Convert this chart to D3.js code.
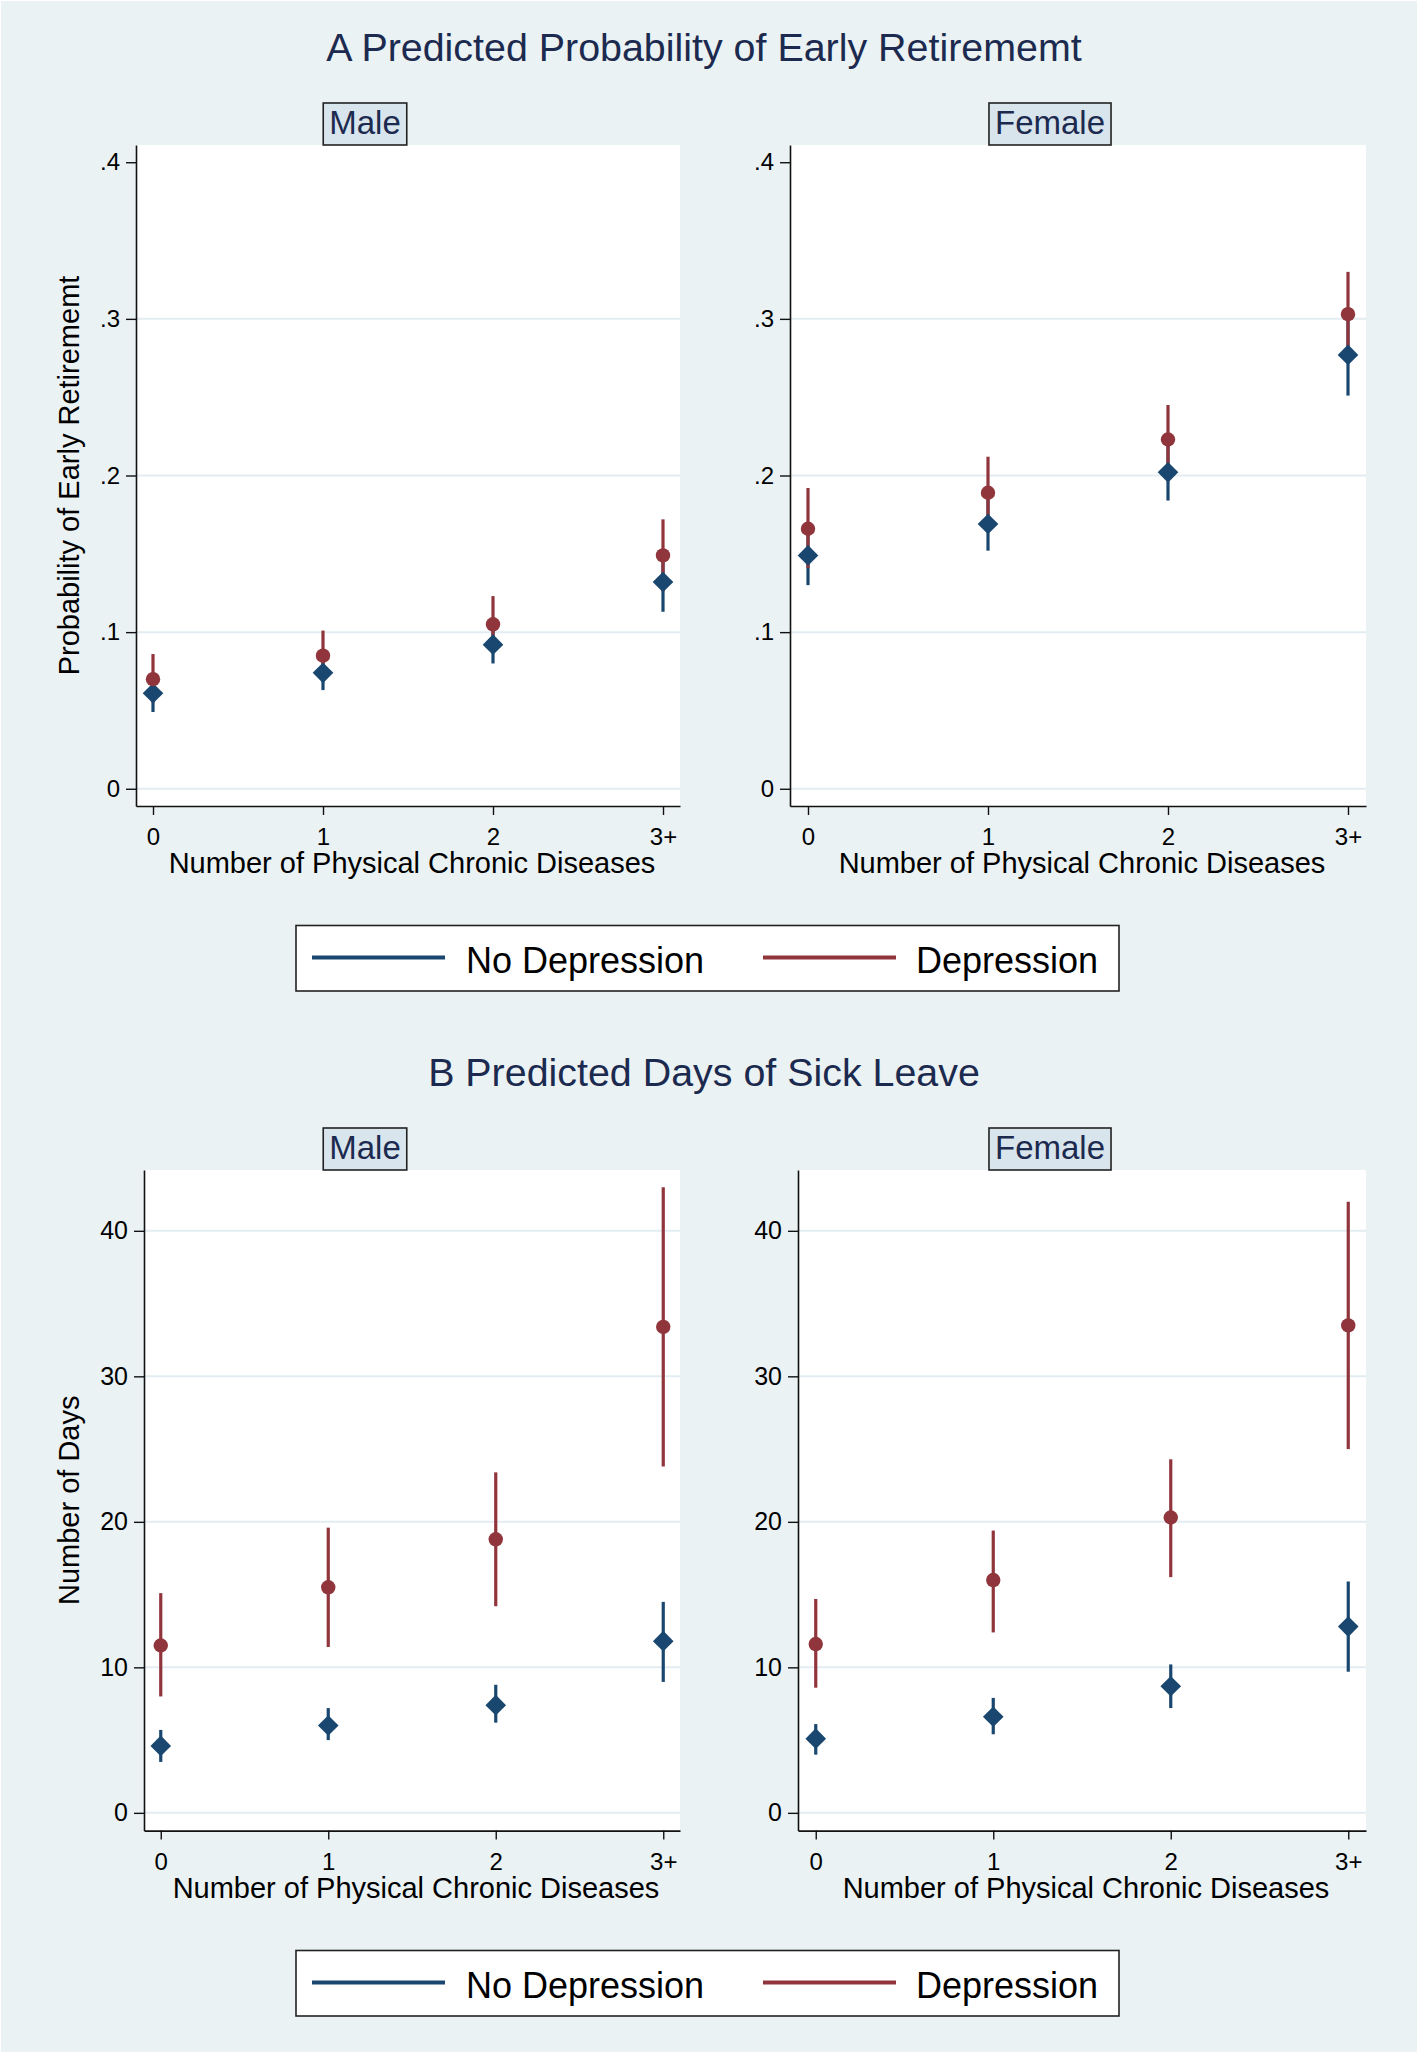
<!DOCTYPE html>
<html><head><meta charset="utf-8">
<script src="https://cdn.jsdelivr.net/npm/d3@7"></script>
<style>
body{margin:0;background:#eaf2f3}
svg{display:block}
text{font-family:"Liberation Sans",Arial,Helvetica,sans-serif}
</style>
</head><body>
<svg id="c" width="1418" height="2053"></svg>
<script>
// ---------------- data ----------------
const categories = ["0", "1", "2", "3+"];
const seriesNames = ["No Depression", "Depression"];
const titleA = "A Predicted Probability of Early Retirememt";
const titleB = "B Predicted Days of Sick Leave";
const stripLabels = ["Male", "Female"];
const xTitle = "Number of Physical Chronic Diseases";
const yTitleA = "Probability of Early Retirememt";
const yTitleB = "Number of Days";
const probTicks = [0, 0.1, 0.2, 0.3, 0.4];
const probTickLabels = ["0", ".1", ".2", ".3", ".4"];
const dayTicks = [0, 10, 20, 30, 40];
const dayTickLabels = ["0", "10", "20", "30", "40"];

// Panel A, Male: probability of early retirement
const probMaleNoDep   = [0.061, 0.074, 0.092, 0.132];
const probMaleNoDepLo = [0.049, 0.063, 0.080, 0.113];
const probMaleNoDepHi = [0.073, 0.085, 0.105, 0.151];
const probMaleDep     = [0.070, 0.085, 0.105, 0.149];
const probMaleDepLo   = [0.055, 0.069, 0.087, 0.126];
const probMaleDepHi   = [0.086, 0.101, 0.123, 0.172];
// Panel A, Female
const probFemNoDep    = [0.149, 0.169, 0.202, 0.277];
const probFemNoDepLo  = [0.130, 0.152, 0.184, 0.251];
const probFemNoDepHi  = [0.168, 0.186, 0.220, 0.303];
const probFemDep      = [0.166, 0.189, 0.223, 0.303];
const probFemDepLo    = [0.141, 0.166, 0.201, 0.276];
const probFemDepHi    = [0.192, 0.212, 0.245, 0.330];
// Panel B, Male: days of sick leave
const daysMaleNoDep   = [4.6, 6.0, 7.4, 11.8];
const daysMaleNoDepLo = [3.5, 5.0, 6.2, 9.0];
const daysMaleNoDepHi = [5.7, 7.2, 8.8, 14.5];
const daysMaleDep     = [11.5, 15.5, 18.8, 33.4];
const daysMaleDepLo   = [8.0, 11.4, 14.2, 23.8];
const daysMaleDepHi   = [15.1, 19.6, 23.4, 43.0];
// Panel B, Female
const daysFemNoDep    = [5.1, 6.6, 8.7, 12.8];
const daysFemNoDepLo  = [4.0, 5.4, 7.2, 9.7];
const daysFemNoDepHi  = [6.1, 7.9, 10.2, 15.9];
const daysFemDep      = [11.6, 16.0, 20.3, 33.5];
const daysFemDepLo    = [8.6, 12.4, 16.2, 25.0];
const daysFemDepHi    = [14.7, 19.4, 24.3, 42.0];

// ---------------- style / layout ----------------
const BG = "#eaf2f3", STRIP = "#d8e5ec", GRID = "#e3edf1";
const NAVY = "#1a476f", MAROON = "#90353b", TITLEC = "#1c2a4f";
const FONT_TICK = 24, FONT_AXT = 29, FONT_TITLE = 39.4, FONT_STRIP = 33, FONT_LEG = 36;

const svg = d3.select("#c");
svg.append("rect").attr("x",0).attr("y",0).attr("width",1418).attr("height",2053)
  .attr("fill",BG).attr("stroke","#ffffff").attr("stroke-width",2);

function mk(est, lo, hi){ return categories.map((c,i)=>({i, est:est[i], lo:lo[i], hi:hi[i]})); }

const blocks = [
  {off:0, title:titleA, yTitle:yTitleA, ticks:probTicks, tickLabels:probTickLabels, yTickFont:24,
   yDom:[-0.011,0.411], plotTop:145, plotBot:806, grid:[0,0.1,0.2,0.3],
   panels:[
     {strip:stripLabels[0], xr:[136,680], cx:365,
      nd:mk(probMaleNoDep,probMaleNoDepLo,probMaleNoDepHi), d:mk(probMaleDep,probMaleDepLo,probMaleDepHi), showYT:true},
     {strip:stripLabels[1], xr:[790,1366], cx:1050,
      nd:mk(probFemNoDep,probFemNoDepLo,probFemNoDepHi), d:mk(probFemDep,probFemDepLo,probFemDepHi), showYT:false}
   ]},
  {off:1025, title:titleB, yTitle:yTitleB, ticks:dayTicks, tickLabels:dayTickLabels, yTickFont:25,
   yDom:[-1.22,44.18], plotTop:145, plotBot:805.6, grid:[0,10,20,30,40],
   panels:[
     {strip:stripLabels[0], xr:[144,680], cx:365,
      nd:mk(daysMaleNoDep,daysMaleNoDepLo,daysMaleNoDepHi), d:mk(daysMaleDep,daysMaleDepLo,daysMaleDepHi), showYT:true},
     {strip:stripLabels[1], xr:[798,1366], cx:1050,
      nd:mk(daysFemNoDep,daysFemNoDepLo,daysFemNoDepHi), d:mk(daysFemDep,daysFemDepLo,daysFemDepHi), showYT:false}
   ]}
];

const diamond = (r)=>`M0,${-r}L${r},0L0,${r}L${-r},0Z`;

blocks.forEach(b=>{
  const g = svg.append("g").attr("transform",`translate(0,${b.off})`);
  // title
  g.append("text").attr("x",704).attr("y",61).attr("text-anchor","middle")
    .attr("font-size",FONT_TITLE).attr("fill",TITLEC).text(b.title);

  b.panels.forEach(p=>{
    const x = d3.scaleLinear().domain([-0.1,3.1]).range(p.xr);
    const y = d3.scaleLinear().domain(b.yDom).range([b.plotBot,b.plotTop]);
    const pg = g.append("g");
    // plot region
    pg.append("rect").attr("x",p.xr[0]).attr("y",b.plotTop)
      .attr("width",p.xr[1]-p.xr[0]).attr("height",b.plotBot-b.plotTop).attr("fill","#ffffff");
    // grid
    pg.selectAll("line.grid").data(b.grid).enter().append("line").attr("class","grid")
      .attr("x1",p.xr[0]+1).attr("x2",p.xr[1]).attr("y1",d=>y(d)).attr("y2",d=>y(d))
      .attr("stroke",GRID).attr("stroke-width",2);
    // axes
    const ya = pg.append("g").attr("transform",`translate(${p.xr[0]},0)`)
      .call(d3.axisLeft(y).tickValues(b.ticks).tickFormat((d,i)=>b.tickLabels[i])
        .tickSize(10).tickSizeOuter(0).tickPadding(6));
    const xa = pg.append("g").attr("transform",`translate(0,${b.plotBot})`)
      .call(d3.axisBottom(x).tickValues([0,1,2,3]).tickFormat(i=>categories[i])
        .tickSize(9).tickSizeOuter(0).tickPadding(13));
    [ya,xa].forEach(a=>{
      a.select(".domain").attr("stroke","#111").attr("stroke-width",1.6);
      a.selectAll(".tick line").attr("stroke","#111").attr("stroke-width",1.4);
      a.selectAll(".tick text").attr("font-size",FONT_TICK).attr("fill","#000")
        .attr("font-family",'"Liberation Sans",Arial,sans-serif');
    });
    ya.selectAll(".tick text").attr("font-size",b.yTickFont);
    // x title
    pg.append("text").attr("x",(p.xr[0]+p.xr[1])/2+4).attr("y",b.plotBot+67)
      .attr("text-anchor","middle").attr("font-size",FONT_AXT).attr("fill","#000").text(xTitle);
    // y title
    if(p.showYT){
      pg.append("text").attr("transform",`translate(69,${(b.plotTop+b.plotBot)/2}) rotate(-90)`)
        .attr("y",FONT_AXT*0.36).attr("text-anchor","middle")
        .attr("font-size",FONT_AXT).attr("fill","#000").text(b.yTitle);
    }
    // strip label
    const st = pg.append("text").attr("x",p.cx).attr("y",133.5).attr("text-anchor","middle")
      .attr("font-size",FONT_STRIP).attr("fill",TITLEC).text(p.strip);
    const bb = st.node().getBBox();
    pg.insert("rect", () => st.node()).attr("x",bb.x-6).attr("y",103).attr("width",bb.width+12)
      .attr("height",42).attr("fill",STRIP).attr("stroke","#222").attr("stroke-width",1.6);

    // CI spikes: no depression, then depression
    [[p.nd,NAVY],[p.d,MAROON]].forEach(([data,col])=>{
      pg.selectAll(null).data(data).enter().append("line")
        .attr("x1",d=>x(d.i)).attr("x2",d=>x(d.i)).attr("y1",d=>y(d.lo)).attr("y2",d=>y(d.hi))
        .attr("stroke",col).attr("stroke-width",3.2);
    });
    // markers
    pg.selectAll(null).data(p.nd).enter().append("path")
      .attr("d",diamond(10.3)).attr("transform",d=>`translate(${x(d.i)},${y(d.est)})`).attr("fill",NAVY);
    pg.selectAll(null).data(p.d).enter().append("circle")
      .attr("cx",d=>x(d.i)).attr("cy",d=>y(d.est)).attr("r",7.2).attr("fill",MAROON);
  });

  // legend
  const lg = g.append("g");
  lg.append("rect").attr("x",296).attr("y",925.5).attr("width",823).attr("height",65.5)
    .attr("fill","#ffffff").attr("stroke","#222").attr("stroke-width",1.6);
  const legItems = [{name:seriesNames[0], col:NAVY, lx:312, tx:466}, {name:seriesNames[1], col:MAROON, lx:763, tx:916}];
  legItems.forEach(it=>{
    lg.append("line").attr("x1",it.lx).attr("x2",it.lx+133).attr("y1",957.5).attr("y2",957.5)
      .attr("stroke",it.col).attr("stroke-width",4);
    lg.append("text").attr("x",it.tx).attr("y",973).attr("font-size",FONT_LEG).attr("fill","#000").text(it.name);
  });
});
</script>
</body></html>
